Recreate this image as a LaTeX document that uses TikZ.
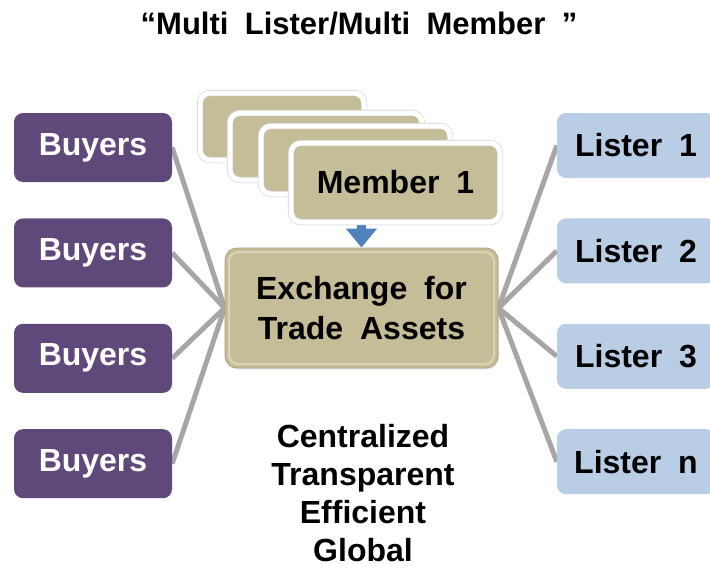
\documentclass[tikz,border=0pt]{standalone}
\usepackage{fontspec}
\setmainfont{Liberation Sans}[WordSpace=1.9]
\usepackage{tikz}
\usetikzlibrary{positioning,backgrounds,arrows.meta,shadows}
\definecolor{TradePurple}{HTML}{5F497A}
\definecolor{TradeSky}{HTML}{B9CDE5}
\definecolor{TradeTan}{HTML}{C4BD97}
\definecolor{TradeSand}{HTML}{E4E0C4}
\definecolor{TradeGrey}{HTML}{A6A6A6}
\definecolor{TradeArrow}{HTML}{4F81BD}

\begin{document}
\begin{tikzpicture}[x=1pt,y=-1pt,
  node distance=36pt,
  buyer/.style={fill=TradePurple,text=white,rounded corners=9pt,inner sep=0pt,
    minimum width=158pt,minimum height=69pt,font=\fontsize{32}{38}\selectfont\bfseries},
  lister/.style={buyer,fill=TradeSky,text=black,minimum height=65pt},
  card/.style={fill=TradeTan,draw=black!18,double=white,double distance=5pt,line width=.6pt,
    rounded corners=10pt,inner sep=0pt,font=\fontsize{32}{38}\selectfont\bfseries,
    drop shadow={opacity=0.15,shadow xshift=1pt,shadow yshift=-1.5pt}},
  exch/.style={fill=TradeTan,draw=TradeTan!85!black,line width=.8pt,rounded corners=12pt,
    minimum width=273pt,minimum height=120pt,align=center,inner sep=0pt,
    font=\fontsize{32}{40}\selectfont\bfseries,
    drop shadow={opacity=0.2,shadow xshift=1pt,shadow yshift=-1.5pt},
    path picture={\draw[TradeSand!70!TradeTan,line width=2pt,rounded corners=9pt]
      ([shift={(4pt,4pt)}]path picture bounding box.south west) rectangle
      ([shift={(-4pt,-4pt)}]path picture bounding box.north east);}},
  title/.style={font=\fontsize{31}{35}\selectfont\bfseries},
  traits/.style={align=center,font=\fontsize{32}{38}\selectfont\bfseries},
  link/.style={draw=TradeGrey,line width=5pt},
  flow/.style={draw=TradeArrow,line width=9pt,-{Triangle[width=30pt,length=19pt]}}
]
\useasboundingbox (0,0) rectangle (710,579);
\clip (0,0) rectangle (710,579);
\node[title] (head) at (359,24) {“Multi Lister/Multi Member\ ”};
% buyers on the left
\node[buyer] (b1) at (93,147.5) {Buyers};
\node[buyer,below=of b1] (b2) {Buyers};
\node[buyer,below=of b2] (b3) {Buyers};
\node[buyer,below=of b3] (b4) {Buyers};
% listers on the right, cut off by the page edge
\node[lister] (l1) at (636,145.5) {Lister 1};
\node[lister,below=40pt of l1] (l2) {Lister 2};
\node[lister,below=40pt of l2] (l3) {Lister 3};
\node[lister,below=40pt of l3] (l4) {Lister n};
% stack of member cards
\node[card,minimum width=164pt,minimum height=67pt] (m4) at (282,126.5) {};
\node[card,minimum width=192pt,minimum height=67pt] (m3) at (326,146.5) {};
\node[card,minimum width=189pt,minimum height=68pt] (m2) at (355.5,160) {};
\node[card,minimum width=209pt,minimum height=79pt] (m1) at (395.5,182.5) {Member 1};
\node[exch] (exch) at (361.5,308) {Exchange for\\Trade Assets};
\node[traits] (traits) at (363,493) {Centralized\\Transparent\\Efficient\\Global};
\begin{scope}[on background layer]
\draw[link] (b1.east) -- (exch.west);
\draw[link] (b2.east) -- (exch.west);
\draw[link] (b3.east) -- (exch.west);
\draw[link] (b4.east) -- (exch.west);
\draw[link] (exch.east) -- (l1.west);
\draw[link] (exch.east) -- (l2.west);
\draw[link] (exch.east) -- (l3.west);
\draw[link] (exch.east) -- (l4.west);
\draw[flow] (exch.north |- m1.south) -- (exch.north);
\end{scope}
\end{tikzpicture}
\end{document}
